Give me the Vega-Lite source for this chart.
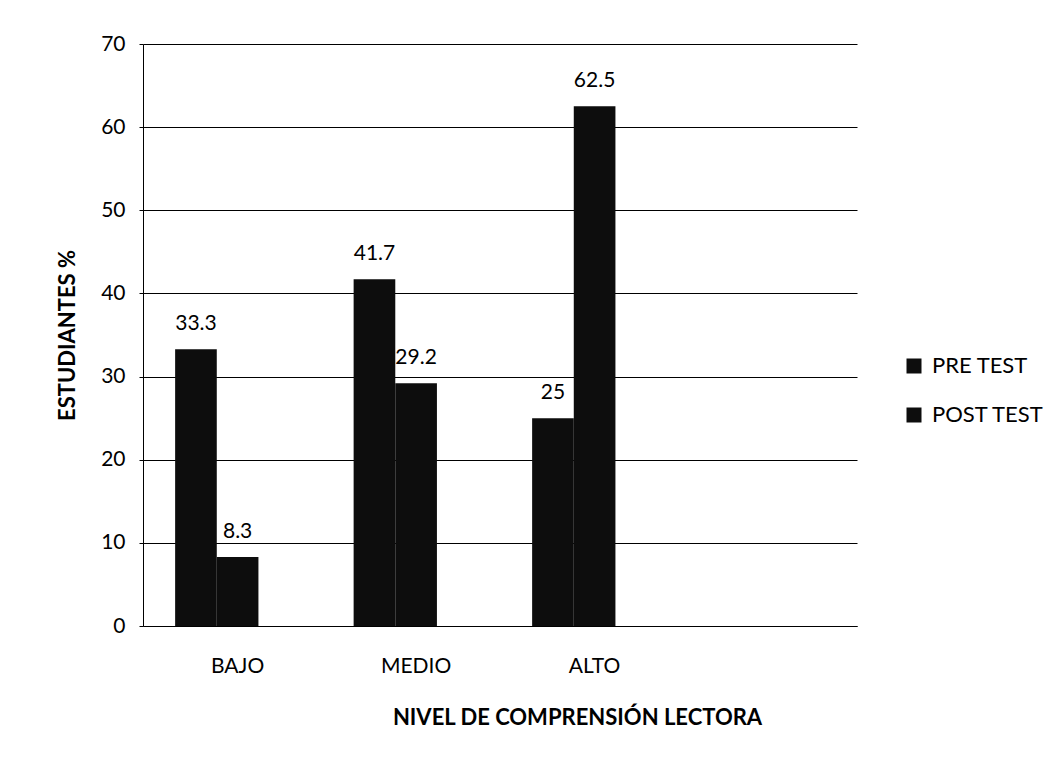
{
  "$schema": "https://vega.github.io/schema/vega-lite/v6.json",
  "autosize": {"type": "none"},
  "width": 714,
  "height": 582,
  "padding": {"left": 143, "top": 44, "right": 205, "bottom": 137},
  "background": "white",
  "config": {
    "font": "Lato",
    "view": {"stroke": null},
    "axis": {"labelFont": "Lato", "titleFont": "Lato", "labelColor": "#000", "titleColor": "#000"},
    "legend": {"labelFont": "Lato", "labelColor": "#000"}
  },
  "data": {
    "values": [
      {"nivel": "BAJO", "serie": "PRE TEST", "valor": 33.3},
      {"nivel": "BAJO", "serie": "POST TEST", "valor": 8.3},
      {"nivel": "MEDIO", "serie": "PRE TEST", "valor": 41.7},
      {"nivel": "MEDIO", "serie": "POST TEST", "valor": 29.2},
      {"nivel": "ALTO", "serie": "PRE TEST", "valor": 25},
      {"nivel": "ALTO", "serie": "POST TEST", "valor": 62.5}
    ]
  },
  "encoding": {
    "x": {
      "field": "nivel",
      "type": "nominal",
      "scale": {"domain": ["BAJO", "MEDIO", "ALTO", "-"], "paddingInner": 0.3, "paddingOuter": 0.15, "align": 0.6},
      "axis": {
        "title": "NIVEL DE COMPRENSIÓN LECTORA",
        "titleFontSize": 22,
        "titleFontWeight": "bold",
        "titleX": 434,
        "titleY": 91,
        "titleAlign": "center",
        "titleBaseline": "middle",
        "labelAngle": 0,
        "labelFontSize": 21,
        "labelPadding": 29,
        "labelExpr": "datum.value == '-' ? '' : datum.value",
        "ticks": false,
        "domain": true,
        "domainColor": "#000",
        "grid": false
      }
    },
    "xOffset": {
      "field": "serie",
      "type": "nominal",
      "scale": {"domain": ["PRE TEST", "POST TEST", "_"], "paddingInner": 0}
    },
    "y": {
      "field": "valor",
      "type": "quantitative",
      "scale": {"domain": [0, 70]},
      "axis": {
        "title": "ESTUDIANTES %",
        "titleFontSize": 22,
        "titleFontWeight": "bold",
        "titleX": -76,
        "titleY": 291,
        "titleAngle": -90,
        "titleAlign": "center",
        "titleBaseline": "middle",
        "values": [0, 10, 20, 30, 40, 50, 60, 70],
        "labelFontSize": 21,
        "labelPadding": 14,
        "tickSize": 4,
        "tickColor": "#000",
        "domainColor": "#000",
        "grid": true,
        "gridColor": "#000",
        "gridOpacity": 1,
        "gridWidth": 1
      }
    }
  },
  "layer": [
    {
      "mark": {"type": "bar", "color": "#0d0d0d"},
      "encoding": {
        "color": {
          "field": "serie",
          "type": "nominal",
          "scale": {"domain": ["PRE TEST", "POST TEST"], "range": ["#0d0d0d", "#0d0d0d"]},
          "legend": {
            "title": null,
            "orient": "none",
            "legendX": 760,
            "legendY": 311,
            "labelFontSize": 22,
            "symbolType": "square",
            "symbolSize": 225,
            "symbolStrokeWidth": 0,
            "rowPadding": 27,
            "labelOffset": 7
          }
        }
      }
    },
    {
      "mark": {"type": "text", "fontSize": 21, "dy": -19, "baseline": "alphabetic", "color": "#000", "font": "Lato"},
      "encoding": {"text": {"field": "valor", "type": "quantitative"}}
    }
  ]
}
